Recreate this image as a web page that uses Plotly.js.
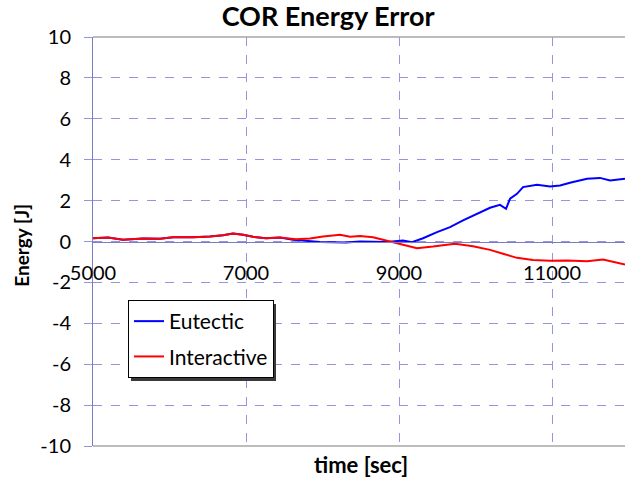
<!DOCTYPE html>
<html>
<head>
<meta charset="utf-8">
<script src="https://cdn.plot.ly/plotly-3.0.1.min.js"></script>
<style>html,body{margin:0;padding:0;background:#fff;}#chart{width:625px;height:477px;}</style>
</head>
<body>
<div id="chart"></div>
<script>
// Eutectic series (time [sec], energy [J])
var eutecticTime = [5000, 5196, 5392, 5654, 5876, 6046, 6307, 6529, 6699, 6830, 6961, 7092, 7261, 7444, 7614, 7967, 8307, 8490, 8843, 9052, 9170, 9314, 9497, 9667, 9837, 10020, 10190, 10320, 10399, 10451, 10542, 10621, 10804, 10974, 11105, 11235, 11457, 11627, 11758, 11954];
var eutecticEnergy = [0.16, 0.20, 0.08, 0.15, 0.13, 0.21, 0.21, 0.24, 0.31, 0.39, 0.33, 0.23, 0.16, 0.20, 0.08, -0.02, -0.05, 0.00, -0.03, 0.05, -0.03, 0.16, 0.46, 0.70, 1.03, 1.35, 1.65, 1.79, 1.60, 2.09, 2.33, 2.66, 2.77, 2.69, 2.74, 2.87, 3.07, 3.11, 2.98, 3.07];
// Interactive series
var interactiveTime = [5000, 5196, 5392, 5654, 5876, 6046, 6307, 6529, 6699, 6830, 6961, 7092, 7261, 7444, 7654, 7837, 8007, 8229, 8360, 8490, 8660, 8843, 9013, 9235, 9444, 9732, 9967, 10190, 10359, 10542, 10751, 10974, 11196, 11457, 11667, 11954];
var interactiveEnergy = [0.16, 0.20, 0.08, 0.15, 0.13, 0.21, 0.21, 0.24, 0.31, 0.39, 0.33, 0.23, 0.16, 0.20, 0.11, 0.15, 0.24, 0.33, 0.23, 0.27, 0.21, 0.05, -0.11, -0.33, -0.25, -0.11, -0.23, -0.41, -0.60, -0.80, -0.90, -0.94, -0.93, -0.96, -0.88, -1.12];
var xTickVals = [5000, 7000, 9000, 11000];
var xTickText = ["5000", "7000", "9000", "11000"];
var yTickVals = [-10, -8, -6, -4, -2, 0, 2, 4, 6, 8, 10];
var yTickText = ["-10", "-8", "-6", "-4", "-2", "0", "2", "4", "6", "8", "10"];
var seriesNames = ["Eutectic", "Interactive"];

var FONT = "Lato, 'Open Sans', sans-serif";
var gridCol = "#9494e0";
var axisCol = "#7c7cc4";

var traces = [
  {x: eutecticTime, y: eutecticEnergy, name: seriesNames[0], legendgroup: "g1", type: "scatter", mode: "lines",
   line: {color: "#0000ff", width: 2}},
  {x: interactiveTime, y: interactiveEnergy, name: seriesNames[1], legendgroup: "g2", type: "scatter", mode: "lines",
   line: {color: "#ff0000", width: 2}}
];

var layout = {
  width: 625, height: 477,
  margin: {l: 93, r: 0, t: 37, b: 31, pad: 0},
  paper_bgcolor: "#fff", plot_bgcolor: "#fff",
  font: {family: FONT, color: "#000", size: 20},
  title: {text: "COR Energy Error", font: {family: FONT, size: 27, weight: "bold", color: "#000"},
          x: 0.442, xanchor: "center", xref: "paper", y: 0.966, yref: "container", yanchor: "middle"},
  xaxis: {
    range: [5000, 11954], tickvals: xTickVals, ticktext: xTickText,
    anchor: "free", position: 0.5,
    showline: true, linecolor: axisCol, linewidth: 1,
    showgrid: true, gridcolor: gridCol, griddash: "dash", gridwidth: 1,
    zeroline: false, ticks: "", ticklabelstandoff: 13,
    tickfont: {family: FONT, size: 20, color: "#000"}
  },
  yaxis: {
    range: [-10, 10], tickvals: yTickVals, ticktext: yTickText,
    showline: true, linecolor: axisCol, linewidth: 1,
    showgrid: true, gridcolor: gridCol, griddash: "dash", gridwidth: 1,
    zeroline: false, ticks: "outside", ticklen: 8, tickcolor: gridCol,
    ticklabelstandoff: 9,
    tickfont: {family: FONT, size: 20, color: "#000"}
  },
  showlegend: true,
  legend: {x: 0.0658, y: 0.357, xanchor: "left", yanchor: "top",
           bgcolor: "#fff", bordercolor: "#000", borderwidth: 1,
           font: {family: FONT, size: 21, color: "#000"}, itemwidth: 30, tracegroupgap: 5},
  shapes: [
    {type: "line", xref: "paper", yref: "paper", x0: 0, x1: 1, y0: 1, y1: 1, line: {color: "#a6a6a6", width: 1.5}},
    {type: "line", xref: "paper", yref: "paper", x0: 0, x1: 1, y0: 0, y1: 0, line: {color: "#a6a6a6", width: 1.5}},
    {type: "rect", xref: "paper", yref: "paper", layer: "above",
     x0: (131 - 93) / 532, x1: (276 - 93) / 532, y0: (446 - 381) / 409, y1: (446 - 304) / 409,
     fillcolor: "#3a3a3a", line: {width: 0}}
  ],
  annotations: [
    {text: "time [sec]", xref: "paper", yref: "paper", x: 0.503, y: -0.046, xanchor: "center", yanchor: "middle",
     showarrow: false, font: {family: FONT, size: 22, weight: "bold", color: "#000"}},
    {text: "Energy [J]", xref: "paper", yref: "paper", x: -0.135, y: 0.49, xanchor: "center", yanchor: "middle",
     textangle: -90, showarrow: false, font: {family: FONT, size: 19, weight: "bold", color: "#000"}}
  ]
};

Plotly.newPlot("chart", traces, layout, {staticPlot: true, displayModeBar: false});
</script>
</body>
</html>
